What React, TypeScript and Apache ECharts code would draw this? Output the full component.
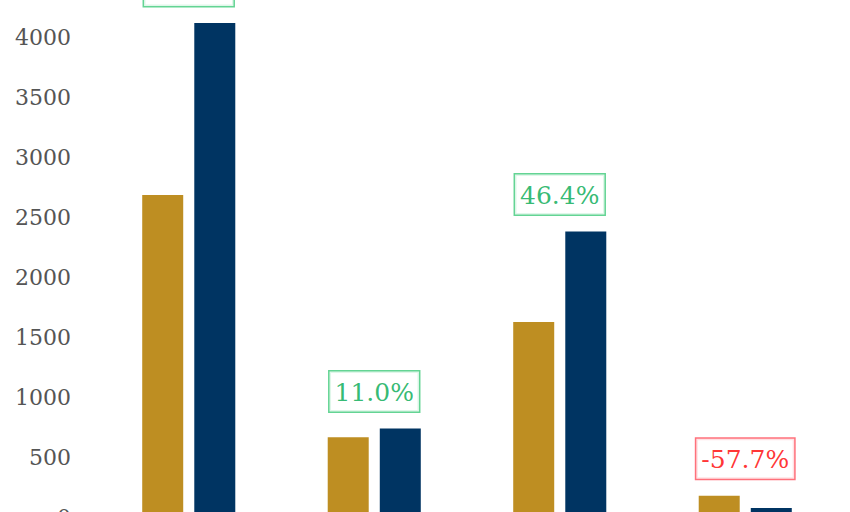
import React, { useEffect, useRef } from "react";
import * as echarts from "echarts";

const categories = ["Category 1", "Category 2", "Category 3", "Category 4"];
const seriesA = [2683, 664, 1625, 178];
const seriesB = [4117, 737, 2380, 75];
const changeLabels = ["53.4%", "11.0%", "46.4%", "-57.7%"];
const yTicks = { min: 0, max: 4500, interval: 500 };

export default function App() {
  const ref = useRef<HTMLDivElement>(null);
  useEffect(() => {
    if (!ref.current) return;
    const chart = echarts.init(ref.current, null, { renderer: "svg" });
    const tops = seriesA.map((v, i) => Math.max(v, seriesB[i]));
    chart.setOption({
      animation: false,
      backgroundColor: "#ffffff",
      grid: { left: 96, right: 12, top: 27, bottom: 53 },
      xAxis: {
        type: "category",
        data: categories,
        axisLine: { show: false },
        axisTick: { show: false },
        axisLabel: { show: false },
      },
      yAxis: {
        type: "value",
        min: yTicks.min,
        max: yTicks.max,
        interval: yTicks.interval,
        splitLine: { show: false },
        axisLine: { show: false },
        axisTick: { show: false },
        axisLabel: {
          color: "#555555",
          fontFamily: "DejaVu Serif",
          fontSize: 22,
          margin: 25,
          formatter: (v: number) => String(v),
        },
      },
      series: [
        {
          type: "bar",
          data: seriesA,
          barWidth: 41,
          barGap: "27%",
          itemStyle: { color: "#BE8E22" },
        },
        {
          type: "bar",
          data: seriesB,
          barWidth: 41,
          itemStyle: { color: "#003462" },
        },
        {
          type: "scatter",
          data: tops.map((v, i) => ({
            value: v,
            label: {
              formatter: changeLabels[i],
              color: changeLabels[i].startsWith("-") ? "#FF0000" : "#00A84F",
              borderColor: changeLabels[i].startsWith("-") ? "#FF4D5A" : "#3DC979",
            },
          })),
          symbolSize: 0,
          silent: true,
          z: 5,
          label: {
            show: true,
            position: "top",
            distance: 17,
            fontFamily: "DejaVu Serif",
            fontSize: 25,
            lineHeight: 30,
            padding: [6, 5, 4, 5],
            borderWidth: 1.5,
            backgroundColor: "#ffffff",
          },
        },
      ],
    });
    return () => chart.dispose();
  }, []);
  return (
    <div
      ref={ref}
      style={{ position: "fixed", left: 0, top: -50, width: 850, height: 620 }}
    />
  );
}
